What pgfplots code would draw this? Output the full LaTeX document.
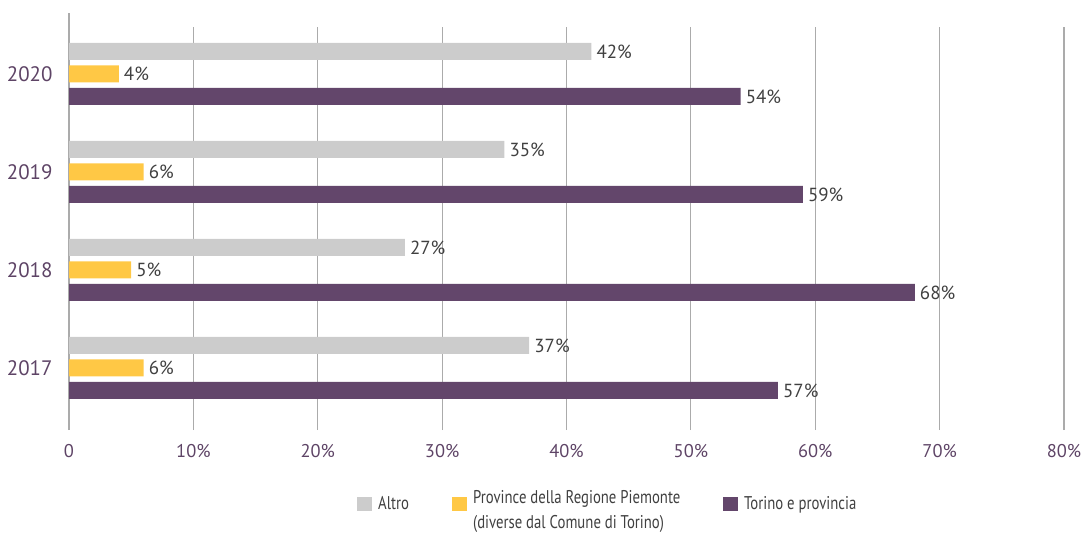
\documentclass[border=0pt]{standalone}
\usepackage{fontspec}
\setmainfont{PT Sans}
\newfontfamily\legfont{PT Sans}[FakeStretch=0.8]
\usepackage{pgfplots}
\pgfplotsset{compat=1.18}
\definecolor{grayc}{HTML}{CCCCCC}
\definecolor{yelc}{HTML}{FFC845}
\definecolor{purc}{HTML}{63466B}
\definecolor{tickc}{HTML}{5E4466}
\definecolor{labc}{HTML}{404040}
\definecolor{gridc}{HTML}{ABABAB}
\begin{document}
\begin{tikzpicture}
\path[use as bounding box] (0,0) rectangle (1082bp,537bp);
\begin{axis}[
  at={(69bp,107bp)}, anchor=south west,
  scale only axis, width=995bp, height=417bp,
  xmin=0, xmax=80, ymin=-0.633, ymax=3.622,
  xbar, bar width=0.1735,
  axis line style={draw=none},
  /pgf/number format/assume math mode=true,
  xtick={0,10,20,30,40,50,60,70,80},
  xticklabels={0,10\%,20\%,30\%,40\%,50\%,60\%,70\%,80\%},
  ytick={0,1,2,3}, yticklabels={2017,2018,2019,2020},
  major tick length=0pt,
  xticklabel style={font=\fontsize{18.5}{21}\selectfont, text=tickc, yshift=-11bp},
  yticklabel style={font=\fontsize{21}{24}\selectfont, text=tickc, xshift=-13bp},
  point meta=explicit,
  nodes near coords={\pgfmathprintnumber{\pgfplotspointmeta}\%},
  nodes near coords style={font=\fontsize{19}{21}\selectfont, text=labc, anchor=west, inner xsep=5bp},
  clip=false,
  legend columns=3,
  legend image code/.code={\fill[#1,draw=none] (0bp,-7bp) rectangle (15bp,7bp);},
  legend style={draw=none, fill=none, inner sep=0pt, anchor=north west,
    at={(0.2894,-0.155)}, font=\legfont\fontsize{18.5}{23}\selectfont, text=labc,
    /tikz/every odd column/.append style={column sep=4bp},
    /tikz/every even column/.append style={column sep=0bp}},
  legend cell align=left,
]
\pgfplotsinvokeforeach{10,20,30,40,50,60,70,80}{
  \draw[gridc, line width=1.2bp] (axis cs:#1,-0.633) -- (axis cs:#1,3.48);
}
\draw[gridc, line width=1.2bp] (axis cs:0,-0.633) -- (axis cs:0,3.622);
\addplot[fill=grayc, draw=none, bar shift=0.2296] coordinates {(37,0) [37] (27,1) [27] (35,2) [35] (42,3) [42]};
\addlegendentry{\makebox[72bp][l]{Altro}}
\addplot[fill=yelc, draw=none, bar shift=0] coordinates {(6,0) [6] (5,1) [5] (6,2) [6] (4,3) [4]};
\addlegendentry{\makebox[248bp][l]{\smash{\begin{tabular}[t]{@{}l@{}}Province della Regione Piemonte\\[2bp](diverse dal Comune di Torino)\end{tabular}}}}
\addplot[fill=purc, draw=none, bar shift=-0.2296] coordinates {(57,0) [57] (68,1) [68] (59,2) [59] (54,3) [54]};
\addlegendentry{Torino e provincia}
\end{axis}
\end{tikzpicture}
\end{document}
